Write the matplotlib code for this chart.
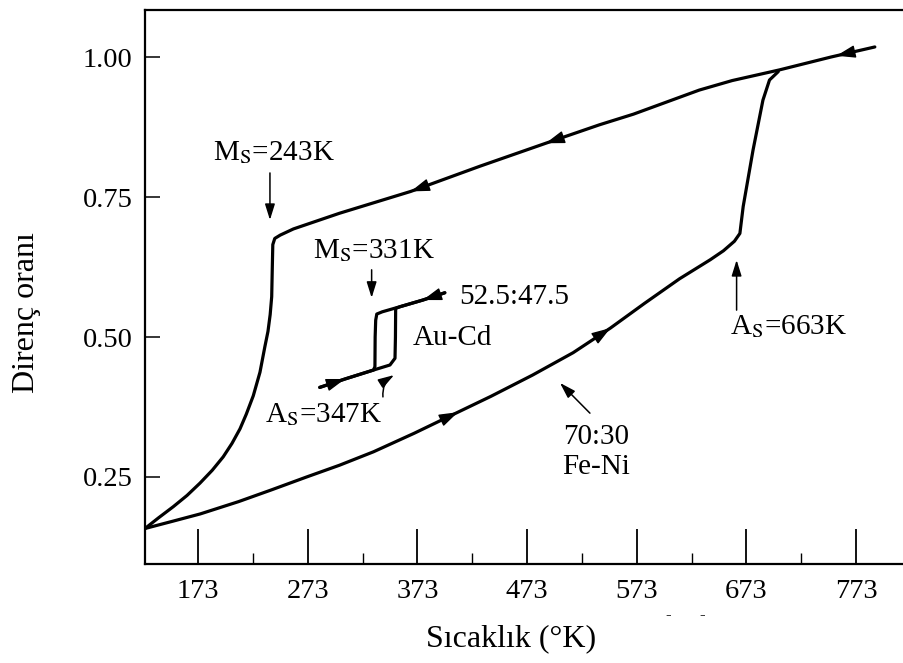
import matplotlib
matplotlib.use("Agg")
import matplotlib.pyplot as plt
import numpy as np

plt.rcParams["font.family"] = ["Liberation Serif", "DejaVu Serif"]
plt.rcParams["mathtext.fontset"] = "stix"

# Fe-Ni 70:30, heating branch (lower curve, then the steep As rise)
feni_heat_T = [124.7, 150, 175, 210, 240, 272, 302, 333, 370, 406, 440, 478, 515,
               549, 580, 612, 640, 652, 662, 667, 670, 679, 688, 694, 702]
feni_heat_V = [0.158, 0.171, 0.184, 0.206, 0.227, 0.250, 0.271, 0.295, 0.328, 0.362,
               0.394, 0.432, 0.472, 0.516, 0.560, 0.604, 0.638, 0.654, 0.671, 0.685,
               0.733, 0.834, 0.923, 0.959, 0.974]

# Fe-Ni 70:30, cooling branch (top line, Ms knee, drop back to start)
feni_cool_T = [790, 750, 703, 660, 630, 570, 539, 490, 430, 367, 302, 260, 248, 243,
               241.2, 240.7, 240.2, 238.8, 236.8, 234, 229.5, 223.4, 217, 211.3, 204,
               196, 186, 174.8, 163, 150.5, 137, 124.7]
feni_cool_V = [1.018, 1.000, 0.977, 0.958, 0.941, 0.898, 0.879, 0.846, 0.805, 0.760,
               0.721, 0.693, 0.682, 0.676, 0.665, 0.620, 0.572, 0.540, 0.510, 0.483,
               0.437, 0.395, 0.362, 0.336, 0.310, 0.286, 0.262, 0.239, 0.217, 0.197,
               0.177, 0.158]

# Au-Cd 52.5:47.5 loop
aucd_heat_T = [284, 307, 333, 348, 352.6, 353, 353.2, 357, 378, 398]
aucd_heat_V = [0.410, 0.425, 0.441, 0.450, 0.462, 0.500, 0.551, 0.554, 0.566, 0.579]
aucd_cool_T = [398, 378, 357, 341, 336, 335, 334.5, 334.3, 333, 307, 284]
aucd_cool_V = [0.579, 0.566, 0.554, 0.545, 0.541, 0.530, 0.500, 0.447, 0.441, 0.425, 0.410]

# where the direction arrowheads sit (temperature along each branch)
heat_arrows = [410, 549]
cool_arrows = [755, 490, 367]
aucd_heat_arrows = [307]
aucd_cool_arrows = [378]

xticks = [173, 273, 373, 473, 573, 673, 773]
yticks = [0.25, 0.50, 0.75, 1.00]


def arrowhead(ax, T, V, t0, step):
    # T must be monotonic in the region; step sign gives the direction
    T = np.asarray(T)
    V = np.asarray(V)
    if T[0] > T[-1]:
        T, V = T[::-1], V[::-1]
    y0 = np.interp(t0 - step, T, V)
    y1 = np.interp(t0, T, V)
    ax.annotate("", xy=(t0, y1), xytext=(t0 - step, y0),
                arrowprops=dict(arrowstyle="-|>,head_length=0.9,head_width=0.3",
                                color="k", lw=1, mutation_scale=13,
                                shrinkA=0, shrinkB=0))


fig = plt.figure(figsize=(9.04, 6.63), dpi=100)
ax = fig.add_axes([145 / 904, 99 / 663, 759 / 904, 554 / 663])

lw = 2.3
ax.plot(feni_heat_T, feni_heat_V, color="k", lw=lw, solid_capstyle="round")
ax.plot(feni_cool_T, feni_cool_V, color="k", lw=lw, solid_capstyle="round")
ax.plot(aucd_heat_T, aucd_heat_V, color="k", lw=lw, solid_capstyle="round")
ax.plot(aucd_cool_T, aucd_cool_V, color="k", lw=lw, solid_capstyle="round")

for t in heat_arrows:
    arrowhead(ax, feni_heat_T[:20], feni_heat_V[:20], t, 6)
for t in cool_arrows:
    arrowhead(ax, feni_cool_T[:12], feni_cool_V[:12], t, -6)
for t in aucd_heat_arrows:
    arrowhead(ax, aucd_heat_T[:4], aucd_heat_V[:4], t, 5)
for t in aucd_cool_arrows:
    arrowhead(ax, aucd_cool_T[:5], aucd_cool_V[:5], t, -5)

fs = 21
arr = dict(arrowstyle="-|>,head_length=0.8,head_width=0.25", color="k", lw=1.1,
           mutation_scale=12, shrinkA=0, shrinkB=0)

ax.text(242, 0.829, r"M$_{\mathrm{S}}$=243K", fontsize=fs, ha="center", va="center")
ax.annotate("", xy=(238.6, 0.709), xytext=(238.6, 0.793), arrowprops=arr)

ax.text(333, 0.655, r"M$_{\mathrm{S}}$=331K", fontsize=fs, ha="center", va="center")
ax.annotate("", xy=(331.3, 0.570), xytext=(331.3, 0.620), arrowprops=arr)

ax.text(411.5, 0.571, "52.5:47.5", fontsize=fs, ha="left", va="center")
ax.text(369, 0.498, "Au-Cd", fontsize=fs, ha="left", va="center")

ax.text(234, 0.361, r"A$_{\mathrm{S}}$=347K", fontsize=fs, ha="left", va="center")
ax.annotate("", xy=(351.7, 0.432), xytext=(341.6, 0.393),
            arrowprops=dict(arr, connectionstyle="arc3,rad=-0.3"))

ax.text(658, 0.518, r"A$_{\mathrm{S}}$=663K", fontsize=fs, ha="left", va="center")
ax.annotate("", xy=(664, 0.6375), xytext=(664, 0.548), arrowprops=arr)

ax.text(536, 0.321, "70:30", fontsize=fs, ha="center", va="center")
ax.text(536, 0.268, "Fe-Ni", fontsize=fs, ha="center", va="center")
ax.annotate("", xy=(503, 0.418), xytext=(530.3, 0.364), arrowprops=arr)

ax.set_xlim(124.7, 816.6)
ax.set_ylim(0.0946, 1.084)

ax.set_xticks(xticks)
ax.set_xticks([t + 50 for t in xticks[:-1]], minor=True)
ax.set_yticks(yticks)
ax.set_yticklabels([f"{v:.2f}" for v in yticks])
ax.tick_params(axis="x", which="major", direction="in", length=25, width=1.3,
               labelsize=20.5, pad=11)
ax.tick_params(axis="x", which="minor", direction="in", length=8, width=1.0)
ax.tick_params(axis="y", direction="in", length=11, width=1.1, labelsize=20.5, pad=9)

for s in ["left", "bottom", "top"]:
    ax.spines[s].set_linewidth(1.6)
ax.spines["right"].set_visible(False)

ax.set_xlabel("Sıcaklık (°K)", fontsize=23)
ax.xaxis.set_label_coords(0.482, -0.108)
ax.set_ylabel("Direnç oranı", fontsize=23)
ax.yaxis.set_label_coords(-0.137, 0.453)

fig.text(668 / 904, 1 - 615 / 663, "-", fontsize=12, ha="center", va="center")
fig.text(702 / 904, 1 - 615 / 663, "-", fontsize=12, ha="center", va="center")

fig.savefig("out.png", dpi=100)
